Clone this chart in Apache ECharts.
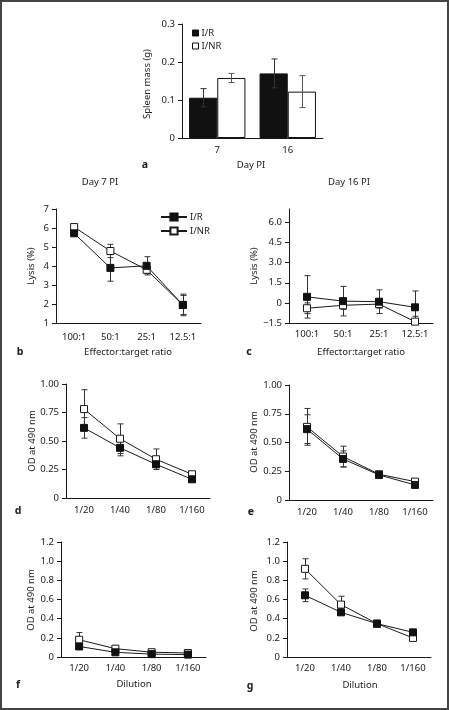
<!DOCTYPE html>
<html><head><meta charset="utf-8">
<script src="https://cdn.jsdelivr.net/npm/echarts@6/dist/echarts.min.js"></script>
<style>html,body{margin:0;padding:0;background:#fff}#c{width:449px;height:710px}</style>
</head><body><div id="c"></div>
<script>
// ---- Panel a: spleen mass ----
const spleenDays = ['7', '16'];
const spleenIR = [0.106, 0.170];
const spleenIRErr = [0.024, 0.038];
const spleenINR = [0.158, 0.122];
const spleenINRErr = [0.012, 0.042];

// ---- Panels b, c: lysis ----
const ratios = ['100:1', '50:1', '25:1', '12.5:1'];
const lysisD7IR = [5.72, 3.90, 4.01, 1.95];
const lysisD7IRErr = [0.08, 0.70, 0.48, 0.57];
const lysisD7INR = [6.05, 4.79, 3.80, 1.95];
const lysisD7INRErr = [0.08, 0.35, 0.20, 0.50];
const lysisD16IR = [0.45, 0.13, 0.09, -0.33];
const lysisD16IRErr = [1.58, 1.10, 0.88, 1.22];
const lysisD16INR = [-0.40, -0.18, -0.09, -1.40];
const lysisD16INRErr = [0.40, 0.30, 0.30, 0.40];

// ---- Panels d-g: OD at 490 nm ----
const dilutions = ['1/20', '1/40', '1/80', '1/160'];
const odDIR = [0.615, 0.440, 0.296, 0.164];
const odDIRErr = [0.090, 0.070, 0.030, 0.020];
const odDINR = [0.780, 0.520, 0.340, 0.208];
const odDINRErr = [0.170, 0.130, 0.090, 0.020];
const odEIR = [0.616, 0.357, 0.218, 0.131];
const odEIRErr = [0.125, 0.070, 0.015, 0.015];
const odEINR = [0.636, 0.378, 0.224, 0.160];
const odEINRErr = [0.160, 0.090, 0.015, 0.015];
const odFIR = [0.110, 0.049, 0.030, 0.025];
const odFIRErr = [0.030, 0.010, 0.010, 0.010];
const odFINR = [0.180, 0.087, 0.050, 0.042];
const odFINRErr = [0.075, 0.010, 0.010, 0.010];
const odGIR = [0.644, 0.466, 0.348, 0.257];
const odGIRErr = [0.066, 0.020, 0.015, 0.015];
const odGINR = [0.920, 0.547, 0.348, 0.199];
const odGINRErr = [0.105, 0.087, 0.015, 0.015];

const FONT = 'Noto Sans';
const INK = '#1a1a1a';
const chart = echarts.init(document.getElementById('c'), null, {renderer: 'canvas'});

const grids = [
  {left: 182, top: 24, width: 141, height: 114},   // a
  {left: 56, top: 209, width: 145, height: 114},   // b
  {left: 289, top: 209, width: 144, height: 114},  // c
  {left: 66, top: 384, width: 144, height: 114},   // d
  {left: 289, top: 385, width: 144, height: 115},  // e
  {left: 61, top: 542, width: 145, height: 115},   // f
  {left: 287, top: 542, width: 144, height: 115}   // g
];

function xAx(gi, cats, margin) {
  return {
    type: 'category', gridIndex: gi, data: cats, boundaryGap: true, position: 'bottom',
    axisLine: {show: true, onZero: false, lineStyle: {color: INK, width: 1}},
    axisTick: {alignWithLabel: true, length: 3, lineStyle: {color: INK}},
    axisLabel: {color: INK, fontFamily: FONT, fontSize: 9.5, margin: margin, interval: 0},
    splitLine: {show: false}
  };
}
function yAx(gi, min, max, interval, fmt, custom) {
  const ax = {
    type: 'value', gridIndex: gi, min: min, max: max, interval: interval,
    axisLine: {show: true, onZero: false, lineStyle: {color: INK, width: 1}},
    axisTick: {show: true, length: 4, lineStyle: {color: INK}},
    axisLabel: {color: INK, fontFamily: FONT, fontSize: 9.5, margin: 7, formatter: fmt},
    splitLine: {show: false}
  };
  if (custom) {
    ax.axisTick.customValues = custom;
    ax.axisLabel.customValues = custom;
  }
  return ax;
}
const f1 = v => v === 0 ? '0' : v.toFixed(1);
const f2 = v => v === 0 ? '0' : v.toFixed(2);
const fi = v => String(v);
const fm = v => v === 0 ? '0' : (v < 0 ? '\u2212' : '') + Math.abs(v).toFixed(1);

const xAxis = [
  xAx(0, spleenDays, 7),
  xAx(1, ratios, 9),
  xAx(2, ratios, 6),
  xAx(3, dilutions, 7),
  xAx(4, dilutions, 7),
  xAx(5, dilutions, 6.5),
  xAx(6, dilutions, 6.5)
];
const yAxis = [
  yAx(0, 0, 0.3, 0.1, f1),
  yAx(1, 1, 7, 1, fi),
  yAx(2, -1.5, 7, 1.5, fm, [-1.5, 0, 1.5, 3, 4.5, 6]),
  yAx(3, 0, 1, 0.25, f2),
  yAx(4, 0, 1, 0.25, f2),
  yAx(5, 0, 1.2, 0.2, f1),
  yAx(6, 0, 1.2, 0.2, f1)
];

function errRender(offsetFrac, color) {
  return function (params, api) {
    const i = api.value(0), lo = api.value(1), hi = api.value(2);
    const band = api.size([1, 0])[0];
    const p1 = api.coord([i, hi]), p2 = api.coord([i, lo]);
    const x = Math.round(p1[0] + offsetFrac * band) + 0.5;
    const cw = 3;
    const st = {stroke: color, lineWidth: 1, fill: null};
    return {type: 'group', children: [
      {type: 'line', shape: {x1: x, y1: p1[1], x2: x, y2: p2[1]}, style: st},
      {type: 'line', shape: {x1: x - cw, y1: p1[1], x2: x + cw, y2: p1[1]}, style: st},
      {type: 'line', shape: {x1: x - cw, y1: p2[1], x2: x + cw, y2: p2[1]}, style: st}
    ]};
  };
}
function errData(vals, errs) {
  return vals.map((v, i) => [i, v - errs[i], v + errs[i]]);
}
function errSeries(gi, vals, errs, off, color, z) {
  return {
    type: 'custom', xAxisIndex: gi, yAxisIndex: gi, clip: true, silent: true,
    renderItem: errRender(off, color), encode: {x: 0, y: [1, 2]},
    data: errData(vals, errs), z: z
  };
}

const series = [];
// panel a bars
series.push({
  name: 'I/R', type: 'bar', xAxisIndex: 0, yAxisIndex: 0, data: spleenIR,
  barGap: '0%', barCategoryGap: '20%',
  itemStyle: {color: '#111', borderColor: '#111', borderWidth: 1}, z: 2
});
series.push({
  name: 'I/NR', type: 'bar', xAxisIndex: 0, yAxisIndex: 0, data: spleenINR,
  barGap: '0%', barCategoryGap: '20%',
  itemStyle: {color: '#fff', borderColor: '#111', borderWidth: 1}, z: 2
});
series.push(errSeries(0, spleenIR, spleenIRErr, -0.2, '#333', 3));
series.push(errSeries(0, spleenINR, spleenINRErr, 0.2, '#555', 3));

const linePanels = [
  [1, lysisD7IR, lysisD7IRErr, lysisD7INR, lysisD7INRErr],
  [2, lysisD16IR, lysisD16IRErr, lysisD16INR, lysisD16INRErr],
  [3, odDIR, odDIRErr, odDINR, odDINRErr],
  [4, odEIR, odEIRErr, odEINR, odEINRErr],
  [5, odFIR, odFIRErr, odFINR, odFINRErr],
  [6, odGIR, odGIRErr, odGINR, odGINRErr]
];
linePanels.forEach(([gi, ir, irE, inr, inrE]) => {
  series.push(errSeries(gi, inr, inrE, 0, '#333', 1));
  series.push(errSeries(gi, ir, irE, 0, '#333', 1));
  series.push({
    name: 'I/NR ', type: 'line', xAxisIndex: gi, yAxisIndex: gi, data: inr,
    symbol: 'rect', symbolSize: 7, showAllSymbol: true,
    lineStyle: {color: INK, width: 1},
    itemStyle: {color: '#fff', borderColor: INK, borderWidth: 1}, z: 3
  });
  series.push({
    name: 'I/R ', type: 'line', xAxisIndex: gi, yAxisIndex: gi, data: ir,
    symbol: 'rect', symbolSize: 7, showAllSymbol: true,
    lineStyle: {color: INK, width: 1},
    itemStyle: {color: '#111', borderColor: '#111', borderWidth: 1}, z: 4
  });
});

function txt(x, y, text, opt) {
  opt = opt || {};
  return {
    type: 'text', x: x, y: y, rotation: opt.rot || 0,
    style: {
      text: text, fill: INK, fontFamily: FONT, fontSize: opt.size || 9.5,
      fontWeight: opt.bold ? 'bold' : 'normal',
      align: opt.align || 'center', verticalAlign: 'middle'
    }
  };
}

const graphic = [
  {type: 'rect', shape: {x: 1, y: 1, width: 447, height: 708},
   style: {fill: 'none', stroke: '#444', lineWidth: 2}, silent: true},
  // panel a
  txt(147, 84, 'Spleen mass (g)', {rot: Math.PI / 2}),
  txt(251, 165, 'Day PI'),
  txt(145, 165, 'a', {bold: true, size: 10.5}),
  // panel b
  txt(100, 182, 'Day 7 PI'),
  txt(31, 266, 'Lysis (%)', {rot: Math.PI / 2}),
  txt(128, 352, 'Effector:target ratio'),
  txt(20, 352, 'b', {bold: true, size: 10.5}),
  // panel c
  txt(349, 182, 'Day 16 PI'),
  txt(254, 266, 'Lysis (%)', {rot: Math.PI / 2}),
  txt(361, 352, 'Effector:target ratio'),
  txt(249, 352, 'c', {bold: true, size: 10.5}),
  // panel d
  txt(32, 441, 'OD at 490 nm', {rot: Math.PI / 2}),
  txt(18, 511, 'd', {bold: true, size: 10.5}),
  // panel e
  txt(254, 442, 'OD at 490 nm', {rot: Math.PI / 2}),
  txt(251, 512, 'e', {bold: true, size: 10.5}),
  // panel f
  txt(31, 600, 'OD at 490 nm', {rot: Math.PI / 2}),
  txt(134, 684, 'Dilution'),
  txt(18, 685, 'f', {bold: true, size: 10.5}),
  // panel g
  txt(254, 601, 'OD at 490 nm', {rot: Math.PI / 2}),
  txt(360, 685, 'Dilution'),
  txt(250, 686, 'g', {bold: true, size: 10.5})
];

chart.setOption({
  animation: false,
  backgroundColor: '#fff',
  grid: grids,
  xAxis: xAxis,
  yAxis: yAxis,
  legend: [
    {data: [{name: 'I/R', icon: 'rect'}, {name: 'I/NR', icon: 'rect'}],
     orient: 'vertical', left: 187, top: 22,
     itemWidth: 6, itemHeight: 6, itemGap: 1, selectedMode: false,
     itemStyle: {borderColor: '#111', borderWidth: 1},
     textStyle: {color: INK, fontFamily: FONT, fontSize: 9.5, lineHeight: 12, padding: [0, 0, 0, -2]}},
    {data: ['I/R ', 'I/NR '], orient: 'vertical', left: 155, top: 207,
     itemWidth: 26, itemHeight: 9, itemGap: 4, selectedMode: false,
     textStyle: {color: INK, fontFamily: FONT, fontSize: 9.5, padding: [0, 0, 0, -2]}}
  ],
  series: series,
  graphic: graphic
});
</script></body></html>
